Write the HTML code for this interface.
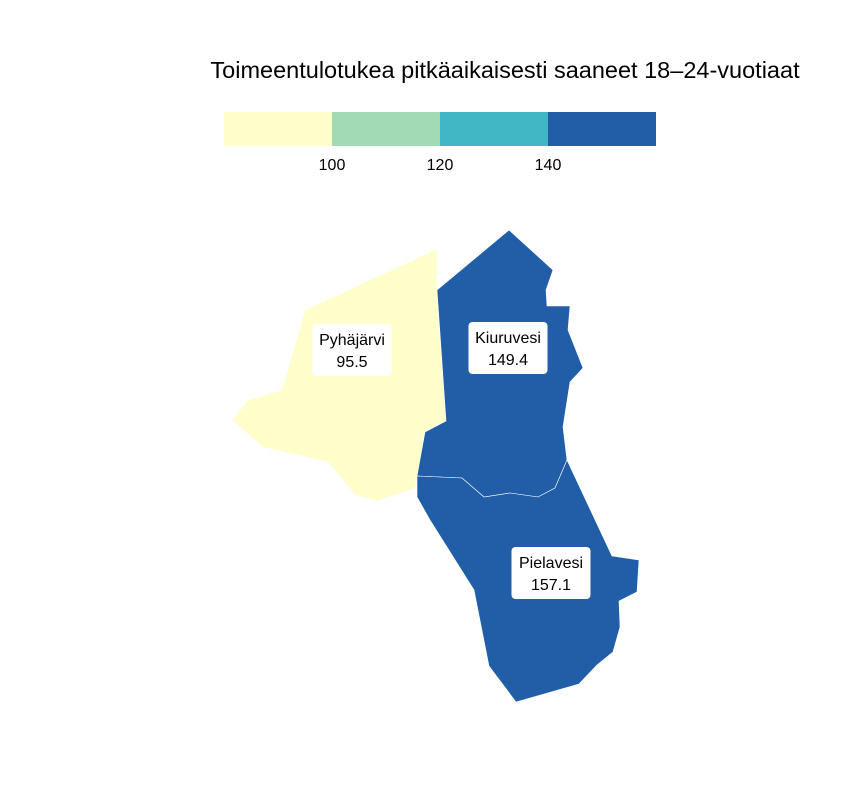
<!DOCTYPE html>
<html><head><meta charset="utf-8"><style>
body{margin:0;background:#fff;font-family:"Liberation Sans",sans-serif;}
</style></head><body>
<svg width="864" height="792" viewBox="0 0 864 792" xmlns="http://www.w3.org/2000/svg">
<text x="505" y="78" text-anchor="middle" font-size="23.5" fill="#000" font-family="Liberation Sans, sans-serif">Toimeentulotukea pitkäaikaisesti saaneet 18–24-vuotiaat</text>
<g id="legend"></g>
<g id="map"></g>
<g id="labels"></g>
</svg>
<script>
const regionNames = ["Pyhäjärvi","Kiuruvesi","Pielavesi"];
const regionValues = [95.5, 149.4, 157.1];
const breaks = [100, 120, 140];
const binColors = ["#ffffcc","#a1dab4","#41b6c4","#225ea8"];
const tickLabels = ["100","120","140"];

const shapes = [
 [[437,249],[305,310],[282,390],[248,400],[232,420],[262,447],[328,462],[355,495],[377,501],[415,488],[418,475],[425,432],[446,421],[437,290]],
 [[437,290],[509,230],[553,270],[546,290],[547,306],[570,306],[568,330],[583,368],[570,382],[563,427],[567,460],[555,488],[538,497],[510,493],[484,497],[462,478],[417,476],[425,432],[446,421]],
 [[417,476],[462,478],[484,497],[510,493],[538,497],[555,488],[567,460],[612,556],[639,560],[637,592],[619,601],[620,627],[613,652],[597,665],[579,684],[516,702],[489,666],[474,590],[430,520],[417,497]]
];
const labelPos = [[352,350],[508,348],[551,573]];
const NS = "http://www.w3.org/2000/svg";
function colorFor(v){let i=0;while(i<breaks.length&&v>=breaks[i])i++;return binColors[i];}

const lg = document.getElementById('legend');
const lx0=224, lw=108;
binColors.forEach((c,i)=>{
 const r=document.createElementNS(NS,'rect');
 r.setAttribute('x',lx0+i*lw);r.setAttribute('y',112);r.setAttribute('width',lw);r.setAttribute('height',34);r.setAttribute('fill',c);
 
 
 lg.appendChild(r);
});
tickLabels.forEach((t,i)=>{
 const tx=document.createElementNS(NS,'text');
 tx.setAttribute('x',lx0+(i+1)*lw);tx.setAttribute('y',170);tx.setAttribute('text-anchor','middle');tx.setAttribute('font-size','16');
 tx.textContent=t;
 
 
 lg.appendChild(tx);
});

const mg=document.getElementById('map'), lb=document.getElementById('labels');
regionNames.forEach((n,i)=>{
 const p=document.createElementNS(NS,'polygon');
 p.setAttribute('points',shapes[i].map(q=>q.join(',')).join(' '));
 p.setAttribute('fill',colorFor(regionValues[i]));p.setAttribute('stroke','#fff');p.setAttribute('stroke-width','0.6');
 
 
 mg.appendChild(p);
 const [cx,cy]=labelPos[i];
 const w=n.length*7+16;
 const r=document.createElementNS(NS,'rect');
 r.setAttribute('x',cx-w/2);r.setAttribute('y',cy-26);r.setAttribute('width',w);r.setAttribute('height',52);r.setAttribute('rx',4);r.setAttribute('fill','#fff');
 
 
 lb.appendChild(r);
 [n,regionValues[i].toFixed(1)].forEach((s,k)=>{
  const t=document.createElementNS(NS,'text');
  t.setAttribute('x',cx);t.setAttribute('y',cy-5+k*22);t.setAttribute('text-anchor','middle');t.setAttribute('font-size','16');
  t.textContent=s;
  
  
  lb.appendChild(t);
 });
});
</script>
</body></html>
